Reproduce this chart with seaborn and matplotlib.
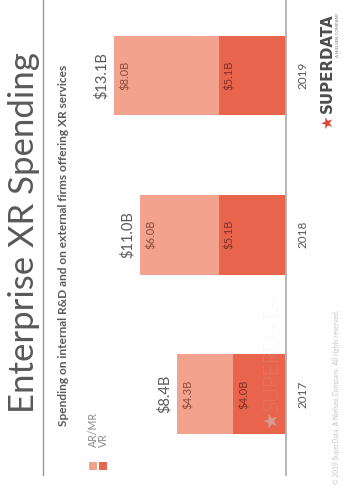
import matplotlib
matplotlib.use("Agg")
import matplotlib.pyplot as plt
from matplotlib.patches import Rectangle
from matplotlib.lines import Line2D
import seaborn as sns
import pandas as pd

# Spending data (billions USD)
years = ["2017", "2018", "2019"]
ar_mr = [4.3, 6.0, 8.0]
vr = [4.0, 5.1, 5.1]
total_labels = ["$8.4B", "$11.0B", "$13.1B"]
ar_labels = ["$4.3B", "$6.0B", "$8.0B"]
vr_labels = ["$4.0B", "$5.1B", "$5.1B"]

AR_COLOR = "#F3A28D"
VR_COLOR = "#E8644C"
GRAY = "#595959"

sns.set_theme(style="white")
plt.rcParams["font.family"] = ["Lato", "DejaVu Sans"]

W, H = 343, 491
fig = plt.figure(figsize=(W / 100, H / 100), dpi=100)
fig.patch.set_facecolor("white")


def fx(px):
    return px / W


def fy(py):
    return 1 - py / H


df = pd.DataFrame({"year": years, "ar": ar_mr, "vr": vr})
df["total"] = df["ar"] + df["vr"]
order = ["2019", "2018", "2017"]

# Column chart laid on its side: values grow leftward, years run bottom to top
ax = fig.add_axes([fx(100), fy(475), fx(286) - fx(100), fy(0) - fy(475)])
sns.barplot(data=df, x="total", y="year", order=order, orient="h", color=AR_COLOR,
            saturation=1, width=0.5, linewidth=0, ax=ax)
sns.barplot(data=df, x="vr", y="year", order=order, orient="h", color=VR_COLOR,
            saturation=1, width=0.5, linewidth=0, ax=ax)
ax.set_xlim(14.17, 0)
ax.set_ylim(2.508, -0.474)
ax.set_xlabel("")
ax.set_ylabel("")
ax.set_xticks([])
for side in ["left", "top", "bottom"]:
    ax.spines[side].set_visible(False)
ax.spines["right"].set_color("#b0b0b0")
ax.spines["right"].set_linewidth(1.3)
ax.patch.set_alpha(0)

ax.tick_params(axis="y", left=False, labelleft=False, right=False, labelright=True,
               length=0, pad=8, labelsize=8.5, labelcolor=GRAY)
for lab in ax.get_yticklabels():
    lab.set_rotation(90)
    lab.set_va("center")

pt = 72 / 100  # points per pixel
for i, yr in enumerate(order):
    k = years.index(yr)
    tot = df["total"][k]
    ax.annotate(total_labels[k], (tot, i), xytext=(-5 * pt, 0), textcoords="offset points",
                rotation=90, ha="right", va="center", fontsize=10.5, color=GRAY)
    ax.annotate(ar_labels[k], (tot, i), xytext=(6 * pt, 0), textcoords="offset points",
                rotation=90, ha="left", va="center", fontsize=8, color="#864536", alpha=0.95)
    ax.annotate(vr_labels[k], (vr[k], i), xytext=(5 * pt, 0), textcoords="offset points",
                rotation=90, ha="left", va="center", fontsize=8, color="#7A2E22", alpha=0.95)

# Faint brand watermark across the first column
fig.text(fx(271.5), fy(428), "\u2605", rotation=90, ha="center", va="bottom",
         fontsize=14, color="#cccccc", alpha=0.55, family=["DejaVu Sans"])
fig.text(fx(271.5), fy(411), "SUPERDATA", rotation=90, ha="center", va="bottom",
         fontsize=15, fontweight="light", color="#cccccc", alpha=0.55)

# Title, rule and subtitle
fig.text(fx(24), fy(233), "Enterprise XR Spending", rotation=90, ha="center", va="center",
         fontsize=25, fontweight="normal", color=GRAY)
fig.add_artist(Line2D([fx(43), fx(43)], [fy(0), fy(475)], color="#9a9a9a", lw=1.0))
fig.text(fx(64), fy(245), "Spending on internal R&D and on external firms offering XR services",
         rotation=90, ha="center", va="center", fontsize=8.6, fontweight="bold", color=GRAY)

# Legend
for cx, color, name in [(93, AR_COLOR, "AR/MR"), (103, VR_COLOR, "VR")]:
    fig.add_artist(Rectangle((fx(cx - 4), fy(470)), fx(8), fy(462) - fy(470),
                             facecolor=color, edgecolor="none"))
    fig.text(fx(cx), fy(447), name, rotation=90, ha="center", va="bottom",
             fontsize=7.6, color="#8a8a8a")

# Logo
fig.text(fx(327.5), fy(113), "SUPERDATA", rotation=90, ha="center", va="bottom",
         fontsize=10.8, fontweight="bold", color="#4d4d4d", family=["DejaVu Sans"])
fig.text(fx(327.5), fy(129), "\u2605", rotation=90, ha="center", va="bottom",
         fontsize=11, color="#E0402F", family=["DejaVu Sans"])
fig.text(fx(338), fy(57), "A NIELSEN COMPANY", rotation=90, ha="center", va="bottom",
         fontsize=3.2, color="#777777")

# Footer
fig.text(fx(336), fy(484), "\u00a9 2019 SuperData, A Nielsen Company. All rights reserved.",
         rotation=90, ha="center", va="bottom", fontsize=4.8, color="#c4c4c4")

fig.savefig("out.png", dpi=100)
